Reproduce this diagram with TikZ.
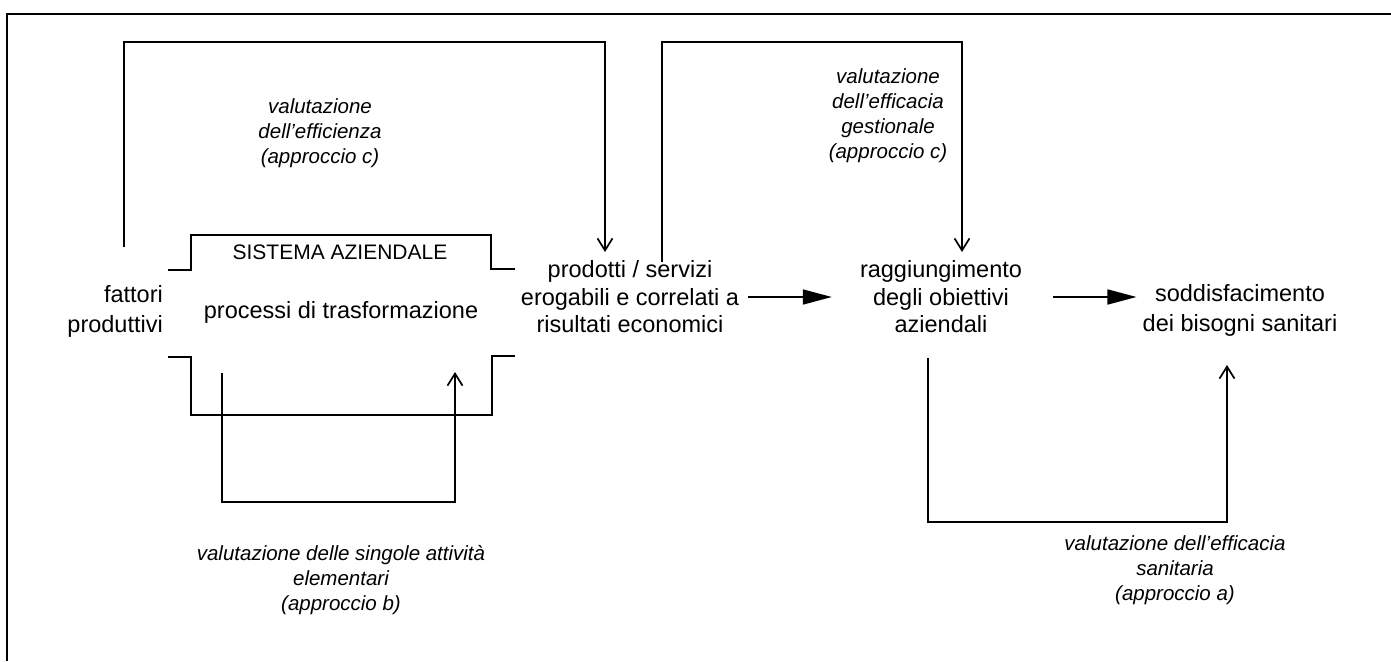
\documentclass[tikz,border=0pt]{standalone}
\usepackage{fontspec}
\setmainfont{Liberation Sans}
\usetikzlibrary{arrows.meta}
\begin{document}
\begin{tikzpicture}[x=1pt,y=-1pt,
  lbl/.style={font=\fontsize{23.5}{27.5}\selectfont, align=center, inner sep=0pt},
  evallbl/.style={font=\fontsize{20.5}{25}\selectfont\itshape, align=center, inner sep=0pt},
  wire/.style={line width=1.7pt},
  fb/.style={wire, -{Straight Barb[length=12pt,width=15pt,line width=1.7pt]}},
  flow/.style={wire, -{Triangle[length=29pt,width=15pt]}}]
\useasboundingbox (0,0) rectangle (1391,661);

% outer frame
\draw[line width=1.8pt] (7,661) -- (7,14) -- (1391,14);

% main chain
\node[lbl, align=right, anchor=east, font=\fontsize{23.5}{30}\selectfont] (fatt) at (163,311) {fattori\\produttivi};
\node[lbl] (proc) at (341,312) {processi di trasformazione};
\node[font=\fontsize{21}{25}\selectfont, inner sep=0pt] (sist) at (340,252) {SISTEMA AZIENDALE};
\node[lbl] (prod) at (630,297) {prodotti / servizi\\erogabili e correlati a\\risultati economici};
\node[lbl] (ragg) at (941,297) {raggiungimento\\degli obiettivi\\aziendali};
\node[lbl, font=\fontsize{23.5}{30}\selectfont] (sodd) at (1240,310) {soddisfacimento\\dei bisogni sanitari};

\draw[flow, shorten <=9pt, shorten >=28pt] (prod.east) -- (ragg.west);
\draw[flow, shorten <=31pt, shorten >=6pt] (ragg.east) -- (ragg.east -| sodd.west);

% company system outline
\draw[wire] (168,270) -- (191,270) -- (191,235) -- (491,235) -- (491,269) -- (515,269);
\draw[wire] (168,357) -- (191,357) -- (191,415) -- (492,415) -- (492,356) -- (515,356);

% evaluation loops
\coordinate (effA) at (124,247);
\coordinate (effB) at (605,252);
\draw[fb] (effA) -- ++(0,-205) -| (effB);

\coordinate (gesA) at (662,262);
\coordinate (gesB) at (962,252);
\draw[fb] (gesA) -- ++(0,-220) -| (gesB);

\coordinate (actA) at (222,373);
\coordinate (actB) at (455,372);
\draw[fb] (actA) -- ++(0,129) -| (actB);

\coordinate (sanA) at (928,358);
\coordinate (sanB) at (1227,365);
\draw[fb] (sanA) -- ++(0,164) -| (sanB);

% evaluation labels
\node[evallbl] (effL) at (320,133) {valutazione\\dell'efficienza\\(approccio c)};
\node[evallbl] (gesL) at (888,115.5) {valutazione\\dell'efficacia\\gestionale\\(approccio c)};
\node[evallbl] (actL) at (341,580) {valutazione delle singole attività\\elementari\\(approccio b)};
\node[evallbl] (sanL) at (1175,570) {valutazione dell'efficacia\\sanitaria\\(approccio a)};
\end{tikzpicture}
\end{document}
